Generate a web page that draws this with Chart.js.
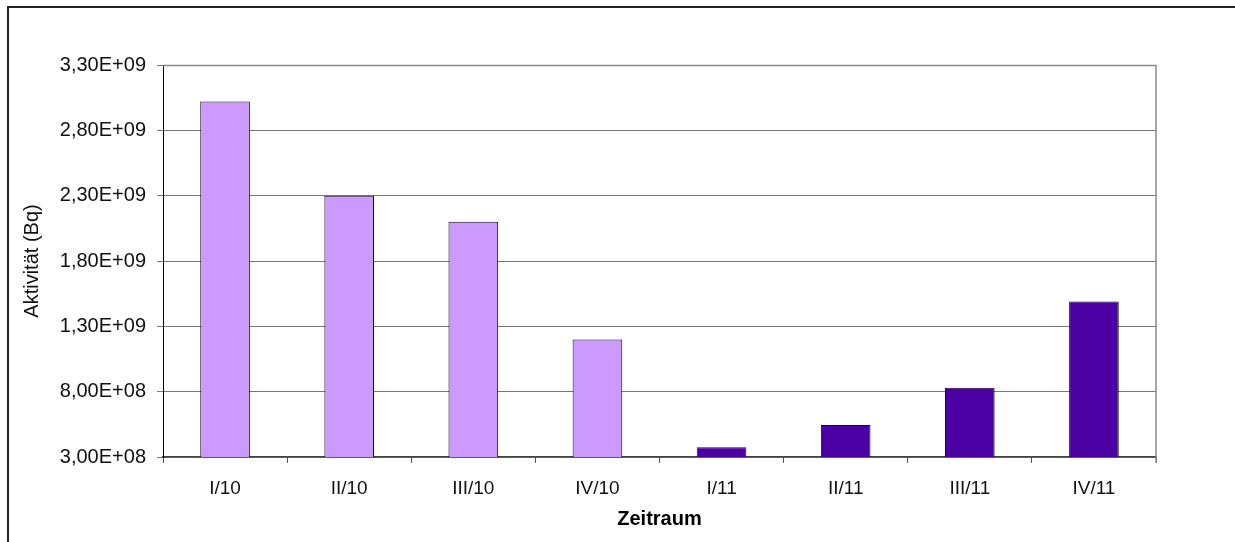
<!DOCTYPE html>
<html lang="de">
<head>
<meta charset="utf-8">
<title>Aktivität je Quartal</title>
<script src="https://cdn.jsdelivr.net/npm/chart.js@4/dist/chart.umd.min.js"></script>
<style>
  html, body { margin: 0; padding: 0; background: #ffffff; }
  #wrap { position: relative; width: 1235px; height: 542px; overflow: hidden; }
  #frame { position: absolute; left: 7px; top: 6px; width: 1300px; height: 600px;
           border-left: 2px solid #222; border-top: 2px solid #222; pointer-events: none; }
  canvas { position: absolute; left: 0; top: 0; }
</style>
</head>
<body>
<div id="wrap">
  <canvas id="chart" width="1235" height="542"></canvas>
  <div id="frame"></div>
</div>
<script>
// Quarterly activity values (Bq), 2010 and 2011
const categories = ['I/10', 'II/10', 'III/10', 'IV/10', 'I/11', 'II/11', 'III/11', 'IV/11'];
const years = ['10', '10', '10', '10', '11', '11', '11', '11'];
const activity = [3.02e9, 2.30e9, 2.10e9, 1.20e9, 3.75e8, 5.45e8, 8.30e8, 1.49e9];
const yTicks = [3.0e8, 8.0e8, 1.3e9, 1.8e9, 2.3e9, 2.8e9, 3.3e9];

const yearColors = { '10': '#CC99FF', '11': '#4A00A3' };
const FONT = 'Liberation Sans, Arial, sans-serif';

// "3,30E+09" style scientific labels with a German decimal comma
function sciLabel(v) {
  const [m, e] = Number(v).toExponential(2).split('e');
  const exp = parseInt(e, 10);
  const sign = exp < 0 ? '-' : '+';
  return m.replace('.', ',') + 'E' + sign + String(Math.abs(exp)).padStart(2, '0');
}

// Thin grey frame around the plot area (top and right edges)
const plotFrame = {
  id: 'plotFrame',
  afterDatasetsDraw(chart) {
    const { ctx, chartArea: a } = chart;
    ctx.save();
    ctx.strokeStyle = '#8a8a8a';
    ctx.lineWidth = 1.5;
    ctx.beginPath();
    ctx.moveTo(a.left, a.top + 0.5);
    ctx.lineTo(a.right, a.top + 0.5);
    ctx.lineTo(a.right, a.bottom + 6);
    ctx.stroke();
    ctx.restore();
  }
};

new Chart(document.getElementById('chart'), {
  type: 'bar',
  data: {
    labels: categories,
    datasets: [{
      label: 'Aktivität (Bq)',
      data: activity,
      backgroundColor: years.map(y => yearColors[y]),
      borderColor: '#111',
      borderWidth: 1,
      borderSkipped: false,
      barPercentage: 0.4,
      categoryPercentage: 1.0
    }]
  },
  options: {
    responsive: false,
    animation: false,
    devicePixelRatio: 1,
    layout: { padding: { left: 0, right: 79, top: 65, bottom: 0 } },
    plugins: {
      legend: { display: false },
      tooltip: { enabled: false }
    },
    scales: {
      x: {
        offset: true,
        grid: {
          offset: true,
          drawOnChartArea: false,
          drawTicks: true,
          tickLength: 6,
          color: '#555'
        },
        border: { display: true, color: '#444', width: 1.5 },
        ticks: {
          color: '#111',
          font: { family: FONT, size: 19 },
          padding: 14,
          maxRotation: 0
        },
        title: {
          display: true,
          text: 'Zeitraum',
          color: '#000',
          font: { family: FONT, size: 20, weight: 'bold' },
          padding: { top: 0, bottom: 11 }
        },
        afterFit(scale) { scale.height = 85; }
      },
      y: {
        min: yTicks[0],
        max: yTicks[yTicks.length - 1],
        afterBuildTicks(scale) { scale.ticks = yTicks.map(v => ({ value: v })); },
        grid: {
          color: '#777',
          lineWidth: 1,
          tickLength: 6
        },
        border: { display: true, color: '#000', width: 1 },
        ticks: {
          color: '#111',
          font: { family: FONT, size: 20 },
          padding: 11,
          callback: v => sciLabel(v)
        },
        title: {
          display: true,
          text: 'Aktivität (Bq)',
          color: '#111',
          font: { family: FONT, size: 20 },
          padding: { top: 20, bottom: 0 }
        },
        afterFit(scale) { scale.width = 163; }
      }
    }
  },
  plugins: [plotFrame]
});
</script>
</body>
</html>
